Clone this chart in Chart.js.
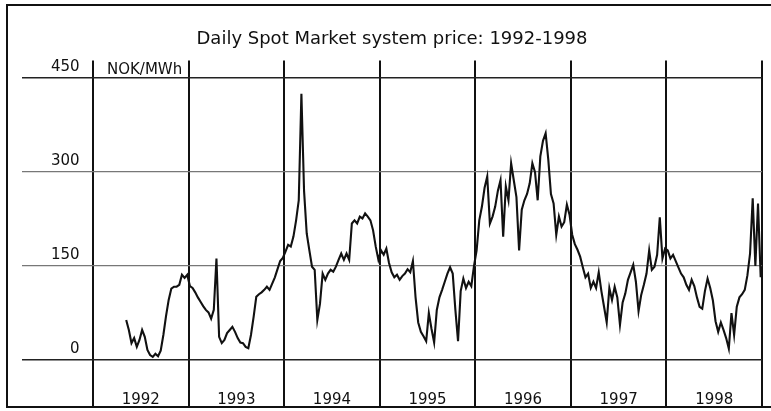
<!DOCTYPE html>
<html>
<head>
<meta charset="utf-8">
<script src="https://cdn.jsdelivr.net/npm/chart.js@4.4.0/dist/chart.umd.min.js"></script>
<style>
  html, body { margin: 0; padding: 0; background: #fff; }
  #frame {
    position: absolute; left: 6px; top: 4px; width: 765px; height: 404px;
    box-sizing: border-box;
    border-left: 2px solid #111; border-top: 2px solid #111; border-bottom: 2px solid #111;
  }
  #spotChart { position: absolute; left: 0; top: 0; }
</style>
</head>
<body>
<div id="frame"></div>
<canvas id="spotChart" width="771" height="411"></canvas>
<script>
const titleText = 'Daily Spot Market system price: 1992-1998';
const unitLabel = 'NOK/MWh';
const years = [1992, 1993, 1994, 1995, 1996, 1997, 1998];
const yearLabels = ['1992', '1993', '1994', '1995', '1996', '1997', '1998'];
const yTicks = [0, 150, 300, 450];

// prices, ~10 days apart (36 per year)
const samplesPerYear = 36;
const start1992 = 12; // series starts in May 1992
const price1992 = [64, 48, 27, 35, 21, 32, 48, 37, 16, 8, 5, 10, 6, 15, 40, 70, 96, 114, 117, 117, 120, 136, 131, 136];
const price1993 = [118, 115, 108, 100, 93, 86, 80, 76, 66, 80, 162, 37, 27, 32, 43, 48, 53, 45, 35, 28, 27, 21, 19, 40, 69, 101, 105, 108, 112, 117, 112, 122, 132, 145, 158, 163];
const price1994 = [173, 184, 181, 197, 223, 255, 425, 270, 202, 175, 149, 144, 64, 90, 138, 128, 138, 144, 141, 149, 160, 170, 160, 170, 160, 218, 223, 218, 229, 226, 234, 229, 223, 207, 181, 160];
const price1995 = [175, 168, 178, 155, 140, 132, 136, 128, 134, 138, 145, 140, 158, 100, 60, 45, 38, 30, 75, 50, 28, 80, 100, 112, 125, 138, 148, 138, 80, 30, 110, 130, 115, 125, 118, 150];
const price1996 = [175, 223, 245, 275, 293, 218, 229, 245, 270, 287, 197, 277, 255, 314, 287, 260, 175, 240, 255, 265, 282, 314, 300, 255, 325, 350, 362, 320, 265, 250, 200, 229, 213, 220, 248, 232];
const price1997 = [200, 185, 176, 165, 148, 132, 138, 115, 125, 115, 140, 110, 85, 60, 115, 96, 117, 100, 56, 92, 106, 128, 140, 152, 125, 78, 104, 120, 138, 175, 144, 149, 168, 228, 162, 178];
const price1998 = [175, 162, 168, 158, 148, 138, 132, 120, 112, 128, 118, 100, 85, 82, 110, 130, 115, 95, 62, 45, 60, 48, 35, 18, 75, 40, 85, 100, 105, 112, 135, 170, 258, 150, 250, 132];

const priceByYear = [price1992, price1993, price1994, price1995, price1996, price1997, price1998];

const points = [];
years.forEach((yr, k) => {
  const offset = yr === 1992 ? start1992 : 0;
  priceByYear[k].forEach((v, i) => {
    points.push({ x: yr + (offset + i + 0.5) / samplesPerYear, y: v });
  });
});

const font = '"DejaVu Sans", sans-serif';

const yearLabelPlugin = {
  id: 'yearLabels',
  afterDraw(chart) {
    const { ctx, chartArea, scales } = chart;
    ctx.save();
    ctx.fillStyle = '#111';
    ctx.font = '15px ' + font;
    ctx.textBaseline = 'alphabetic';
    ctx.textAlign = 'center';
    years.forEach((yr, i) => {
      ctx.fillText(yearLabels[i], scales.x.getPixelForValue(yr + 0.5), chartArea.bottom - 3);
    });
    ctx.textAlign = 'left';
    ctx.fillText(unitLabel, scales.x.getPixelForValue(years[0]) + 14, scales.y.getPixelForValue(450) - 4);
    ctx.restore();
  }
};

new Chart(document.getElementById('spotChart'), {
  type: 'line',
  data: {
    datasets: [{
      data: points,
      borderColor: '#111',
      borderWidth: 2.1,
      pointRadius: 0,
      tension: 0,
      fill: false
    }]
  },
  options: {
    responsive: false,
    animation: false,
    devicePixelRatio: 1,
    layout: { padding: { left: 22, right: 9, top: 0, bottom: 4 } },
    plugins: {
      legend: { display: false },
      tooltip: { enabled: false },
      title: {
        display: true,
        text: titleText,
        fullSize: false,
        color: '#111',
        font: { family: font, size: 18, weight: 'normal' },
        padding: { top: 29, bottom: 10 }
      }
    },
    scales: {
      x: {
        type: 'linear',
        min: 1991.257,
        max: 1999,
        afterBuildTicks: (s) => { s.ticks = years.concat(1999).map(v => ({ value: v })); },
        ticks: { display: false },
        grid: { color: '#111', lineWidth: 2, drawTicks: false },
        border: { display: false }
      },
      y: {
        min: -75,
        max: 478,
        afterBuildTicks: (s) => { s.ticks = yTicks.map(v => ({ value: v })); },
        afterFit: (s) => { s.width = 0; s.paddingTop = 0; s.paddingBottom = 0; },
        ticks: {
          mirror: true,
          crossAlign: 'far',
          padding: 29,
          labelOffset: -11,
          color: '#111',
          font: { family: font, size: 15 },
          callback: (v) => String(v)
        },
        grid: {
          drawTicks: false,
          color: (c) => (c.tick && (c.tick.value === 450 || c.tick.value === 0)) ? '#222' : '#777',
          lineWidth: (c) => (c.tick && (c.tick.value === 450 || c.tick.value === 0)) ? 1.6 : 1.2
        },
        border: { display: false }
      }
    }
  },
  plugins: [yearLabelPlugin]
});
</script>
</body>
</html>
